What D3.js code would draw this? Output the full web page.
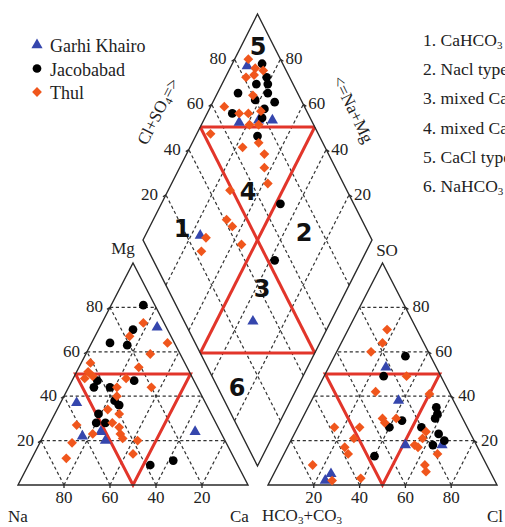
<!DOCTYPE html>
<html>
<head>
<meta charset="utf-8">
<script src="https://cdn.jsdelivr.net/npm/d3@7"></script>
<style>
  body { margin: 0; background: #fff; }
  svg { display: block; }
  text { font-family: "Liberation Serif", "Times New Roman", serif; fill: #222; }
</style>
</head>
<body>
<svg id="chart" width="505" height="527"></svg>
<script>
// ---- Sample compositions (meq %) ----
// Cation triangle: [Mg, Na]  (Ca = 100 - Mg - Na)
const cationGarhi = [[71,4],[37,56],[24,52],[22,61],[20,52],[24,11]];
const cationJacob = [[81,5],[70,15],[64,28],[63,21],[47,42],[44,45],[44,38],[47,26],[38,39],[36,38],[32,49],[28,52],[28,48],[9,38],[11,27]];
const cationThul  = [[73,9],[67,18],[64,3],[59,13],[53,21],[55,41],[51,44],[49,43],[48,47],[48,29],[44,35],[44,20],[40,37],[34,44],[32,40],[28,45],[27,61],[26,43],[23,56],[23,44],[21,44],[19,67],[20,38],[14,43],[12,73]];

// Anion triangle: [SO4, Cl]  (HCO3+CO3 = 100 - SO4 - Cl)
const anionGarhi = [[53,25],[38,38],[18,67],[18,51],[5,25],[2,24]];
const anionJacob = [[58,31],[49,26],[35,56],[32,58],[30,58],[26,40],[29,44],[26,54],[23,63],[20,67],[18,63],[13,40]];
const anionThul  = [[70,17],[64,18],[60,15],[49,36],[42,26],[41,50],[30,35],[30,41],[28,37],[26,16],[26,27],[24,57],[21,57],[21,27],[18,55],[17,57],[17,25],[14,28],[14,67],[9,15],[9,64],[6,66],[3,39],[2,27]];

// Diamond: [Ca+Mg, Cl+SO4]
const diamondGarhi = [[93,84],[84,68],[76,77],[70,83],[76,26],[34,30]];
const diamondJacob = [[87,91],[82,90],[85,84],[80,89],[91,74],[78,87],[82,80],[73,88],[76,82],[89,67],[75,79],[73,73],[48,68],[38,53]];
const diamondThul  = [[94,86],[89,87],[85,90],[91,81],[88,85],[84,80],[94,65],[86,70],[82,74],[77,80],[79,72],[75,76],[94,53],[71,72],[77,64],[66,72],[63,69],[58,67],[73,49],[68,41],[64,42],[56,42],[72,23],[73,28]];

const tickValues = [20, 40, 60, 80];
const siteNames = ["Garhi Khairo", "Jacobabad", "Thul"];
const siteColors = ["#3546ad", "#000000", "#f0561c"];
const waterTypes = ["1. CaHCO|3| type", "2. Nacl type", "3. mixed CaNaHCO|3| type",
                    "4. mixed CaMgCl type", "5. CaCl type", "6. NaHCO|3| type"];

// ---- Scales ----
const yTri  = d3.scaleLinear().domain([0, 1]).range([485, 263]);
const xLeft = d3.scaleLinear().domain([0, 1]).range([18, 248]);
const xRight = d3.scaleLinear().domain([0, 1]).range([268, 497]);
const xDia  = d3.scaleLinear().domain([-1, 1]).range([143, 372]);
const yDia  = d3.scaleLinear().domain([0, 2]).range([466, 14]);

const cat = (mg, na) => { const ca = 100 - mg - na; return [xLeft((ca + mg / 2) / 100), yTri(mg / 100)]; };
const ani = (so4, cl) => [xRight((cl + so4 / 2) / 100), yTri(so4 / 100)];
const dia = (c, a) => [xDia((a - c) / 100), yDia((a + c) / 100)];

const svg = d3.select("#chart");
const line = d3.line();

const gGrid = svg.append("g").attr("fill", "none").attr("stroke", "#333")
  .attr("stroke-width", 1.2).attr("stroke-dasharray", "3.2,2.6");

tickValues.forEach(t => {
  // cation grid
  gGrid.append("path").attr("d", line([cat(t, 100 - t), cat(t, 0)]));
  gGrid.append("path").attr("d", line([cat(0, t), cat(100 - t, t)]));
  gGrid.append("path").attr("d", line([cat(0, 100 - t), cat(100 - t, 0)]));
  // anion grid
  gGrid.append("path").attr("d", line([ani(t, 100 - t), ani(t, 0)]));
  gGrid.append("path").attr("d", line([ani(0, t), ani(100 - t, t)]));
  gGrid.append("path").attr("d", line([ani(0, 100 - t), ani(100 - t, 0)]));
  // diamond grid
  gGrid.append("path").attr("d", line([dia(0, t), dia(100, t)]));
  gGrid.append("path").attr("d", line([dia(t, 0), dia(t, 100)]));
});

// ---- Hydrochemical facies boundaries ----
const gRed = svg.append("g").attr("fill", "none").attr("stroke", "#e2352a")
  .attr("stroke-width", 3).attr("stroke-linejoin", "miter");
gRed.append("path").attr("d", line([cat(50, 50), cat(50, 0), cat(0, 50)]) + "Z");
gRed.append("path").attr("d", line([ani(50, 0), ani(50, 50), ani(0, 50)]) + "Z");
gRed.append("path").attr("d", line([dia(100, 50), dia(50, 100)]));
gRed.append("path").attr("d", line([dia(50, 0), dia(0, 50)]));
gRed.append("path").attr("d", line([dia(100, 50), dia(0, 50)]));
gRed.append("path").attr("d", line([dia(50, 100), dia(50, 0)]));

// ---- Outlines ----
const gOut = svg.append("g").attr("fill", "none").attr("stroke", "#2a2a2a").attr("stroke-width", 1.4);
gOut.append("path").attr("d", line([cat(0, 100), cat(0, 0), cat(100, 0)]) + "Z");
gOut.append("path").attr("d", line([ani(0, 0), ani(0, 100), ani(100, 0)]) + "Z");
gOut.append("path").attr("d", line([dia(100, 0), dia(100, 100), dia(0, 100), dia(0, 0)]) + "Z");

// ---- Ticks and tick labels ----
const gTick = svg.append("g").attr("stroke", "#2a2a2a").attr("stroke-width", 1.3);
const gLab = svg.append("g").attr("font-size", 17);

tickValues.forEach(t => {
  let p;
  // cation: left edge (Mg)
  p = cat(t, 100 - t);
  gTick.append("line").attr("x1", p[0]).attr("y1", p[1]).attr("x2", p[0] - 3).attr("y2", p[1] + 2);
  gLab.append("text").attr("x", p[0] - 7).attr("y", p[1] + 5).attr("text-anchor", "end").text(t);
  // cation: base (Na)
  p = cat(0, t);
  gTick.append("line").attr("x1", p[0]).attr("y1", p[1]).attr("x2", p[0]).attr("y2", p[1] + 3);
  gLab.append("text").attr("x", p[0]).attr("y", 503).attr("text-anchor", "middle").text(t);
  // anion: right edge (SO4)
  p = ani(t, 100 - t);
  gTick.append("line").attr("x1", p[0]).attr("y1", p[1]).attr("x2", p[0] + 3).attr("y2", p[1] + 2);
  gLab.append("text").attr("x", p[0] + 7).attr("y", p[1] + 5).attr("text-anchor", "start").text(t);
  // anion: base (Cl)
  p = ani(0, t);
  gTick.append("line").attr("x1", p[0]).attr("y1", p[1]).attr("x2", p[0]).attr("y2", p[1] + 3);
  gLab.append("text").attr("x", p[0]).attr("y", 503).attr("text-anchor", "middle").text(t);
  // diamond: upper-left edge (Cl+SO4)
  p = dia(100, t);
  gTick.append("line").attr("x1", p[0]).attr("y1", p[1]).attr("x2", p[0] - 3).attr("y2", p[1] + 2);
  gLab.append("text").attr("x", p[0] - 8).attr("y", p[1] + 5).attr("text-anchor", "end").text(t);
  // diamond: upper-right edge
  p = dia(t, 100);
  gTick.append("line").attr("x1", p[0]).attr("y1", p[1]).attr("x2", p[0] + 3).attr("y2", p[1] + 2);
  gLab.append("text").attr("x", p[0] + 5).attr("y", p[1] + 5).attr("text-anchor", "start").text(t);
});

// text helper: segments between "|" are written as subscripts
function richText(sel, str, subSize) {
  str.split("|").forEach((s, i) => {
    if (!s) return;
    if (i % 2 === 1) {
      sel.append("tspan").attr("font-size", subSize).attr("dy", 3).text(s);
    } else {
      sel.append("tspan").attr("dy", i === 0 ? 0 : -3).text(s);
    }
  });
}

// ---- Axis titles and corner labels ----
const gAx = svg.append("g").attr("font-size", 17);
gAx.append("text").attr("x", 123).attr("y", 254).attr("text-anchor", "middle").text("Mg");
gAx.append("text").attr("x", 387).attr("y", 256).attr("text-anchor", "middle").text("SO");
gAx.append("text").attr("x", 8).attr("y", 522).text("Na");
gAx.append("text").attr("x", 230).attr("y", 522).text("Ca");
richText(gAx.append("text").attr("x", 262).attr("y", 521), "HCO|3|+CO|3|", 11);
gAx.append("text").attr("x", 487).attr("y", 522).text("Cl");

richText(gAx.append("text").attr("text-anchor", "middle")
  .attr("transform", "translate(163,114) rotate(-63)"), "Cl+SO|4|=>", 11);
gAx.append("text").attr("text-anchor", "middle")
  .attr("transform", "translate(348,112) rotate(64)").text("<=Na+Mg");

// ---- Region numbers ----
const regions = [["1", 182, 237], ["2", 304, 241], ["3", 262, 297], ["4", 248, 200], ["5", 258, 55], ["6", 237, 396]];
svg.append("g").attr("font-size", 24).attr("font-weight", "bold")
  .selectAll("text").data(regions).join("text")
  .style("font-family", "'DejaVu Sans', sans-serif").style("fill", "#111")
  .attr("text-anchor", "middle")
  .attr("x", d => d[1]).attr("y", d => d[2]).text(d => d[0]);

// ---- Data points ----
const symTri = d3.symbol().type(d3.symbolTriangle).size(54)();
const symCirc = d3.symbol().type(d3.symbolCircle).size(60)();
const symDiam = d3.symbol().type(d3.symbolSquare).size(48)();
const symbols = [symTri, symCirc, symDiam];
const rotations = [0, 0, 45];

function plot(points, proj, site) {
  svg.append("g").selectAll("path").data(points).join("path")
    .attr("d", symbols[site])
    .attr("fill", siteColors[site])
    .attr("transform", d => { const p = proj(d[0], d[1]); return `translate(${p[0]},${p[1]}) rotate(${rotations[site]})`; });
}
[cationGarhi, cationJacob, cationThul].forEach((pts, i) => plot(pts, cat, i));
[anionGarhi, anionJacob, anionThul].forEach((pts, i) => plot(pts, ani, i));
[diamondGarhi, diamondJacob, diamondThul].forEach((pts, i) => plot(pts, dia, i));

// ---- Site legend ----
const leg = svg.append("g");
siteNames.forEach((name, i) => {
  const y = 46 + i * 23.5;
  leg.append("path").attr("d", symbols[i]).attr("fill", siteColors[i])
    .attr("transform", `translate(37,${y - 1}) rotate(${rotations[i]})`);
  leg.append("text").attr("x", 50).attr("y", y + 6).attr("font-size", 18).text(name);
});

// ---- Water type legend ----
const typeLeg = svg.append("g").attr("font-size", 17.5);
waterTypes.forEach((s, i) => {
  richText(typeLeg.append("text").attr("x", 423).attr("y", 46 + i * 29.2), s, 11);
});
</script>
</body>
</html>
